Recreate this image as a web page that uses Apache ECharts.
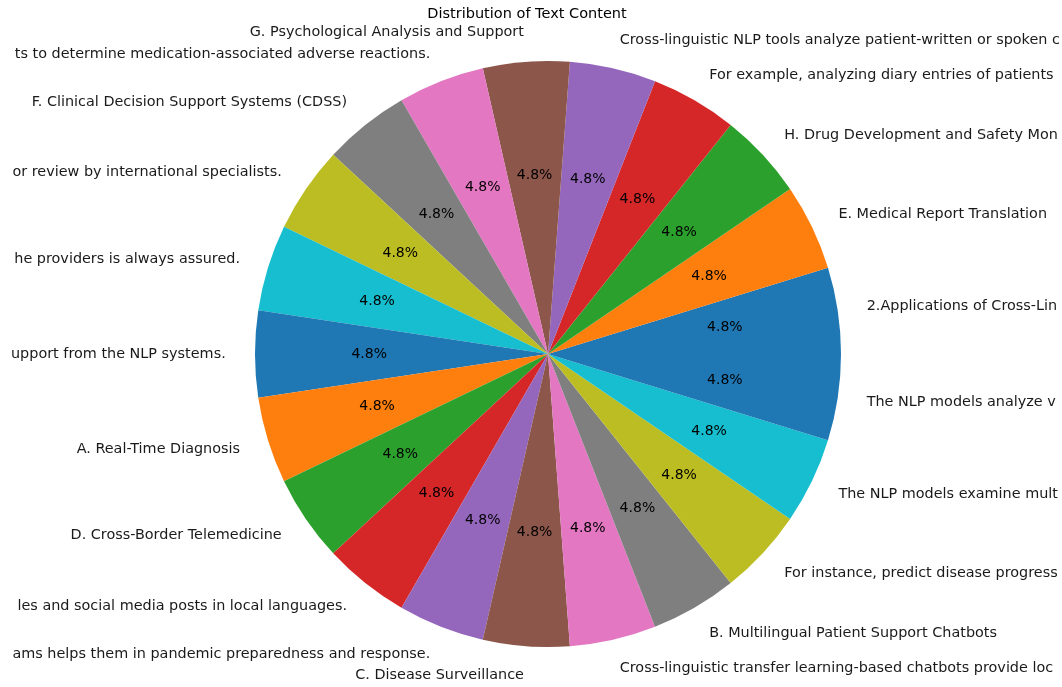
<!DOCTYPE html>
<html>
<head>
<meta charset="utf-8">
<script src="https://cdn.jsdelivr.net/npm/echarts@6/dist/echarts.min.js"></script>
<style>
html,body{margin:0;padding:0;background:#fff;}
#chart{width:1062px;height:687px;}
</style>
</head>
<body>
<div id="chart"></div>
<script>
const titleText = "Distribution of Text Content";
const categories = [
  "2.Applications of Cross-Lin",
  "E. Medical Report Translation",
  "H. Drug Development and Safety Mon",
  "For example, analyzing diary entries of patients",
  "Cross-linguistic NLP tools analyze patient-written or spoken c",
  "G. Psychological Analysis and Support",
  "ts to determine medication-associated adverse reactions.",
  "F. Clinical Decision Support Systems (CDSS)",
  "or review by international specialists.",
  "he providers is always assured.",
  "upport from the NLP systems.",
  "A. Real-Time Diagnosis",
  "D. Cross-Border Telemedicine",
  "les and social media posts in local languages.",
  "ams helps them in pandemic preparedness and response.",
  "C. Disease Surveillance",
  "Cross-linguistic transfer learning-based chatbots provide loc",
  "B. Multilingual Patient Support Chatbots",
  "For instance, predict disease progress",
  "The NLP models examine mult",
  "The NLP models analyze v"
];
const values = [1,1,1,1,1,1,1,1,1,1,1,1,1,1,1,1,1,1,1,1,1];
const palette = ["#1f77b4","#ff7f0e","#2ca02c","#d62728","#9467bd","#8c564b","#e377c2","#7f7f7f","#bcbd22","#17becf"];

const R = 293;
const CX = 548, CY = 354;
const data = categories.map((c, i) => ({ name: c, value: values[i] }));

const chart = echarts.init(document.getElementById('chart'), null, { renderer: 'canvas' });
chart.setOption({
  animation: false,
  color: palette,
  graphic: [{
    type: 'text',
    x: 527, y: 14,
    style: {
      text: titleText,
      font: '14.5px "DejaVu Sans"',
      fill: '#000',
      textAlign: 'center',
      textVerticalAlign: 'middle'
    }
  }],
  series: [
    {
      type: 'pie',
      center: [CX, CY],
      radius: [0, R],
      startAngle: 0,
      clockwise: false,
      avoidLabelOverlap: false,
      silent: true,
      data: data,
      itemStyle: { borderWidth: 0 },
      label: {
        show: true,
        position: 'outside',
        formatter: '{b}',
        fontFamily: 'DejaVu Sans',
        fontSize: 14.4,
        color: '#1a1a1a',
        distanceToLabelLine: 0
      },
      labelLine: { show: false, length: R * 0.1, length2: 0 }
    },
    {
      type: 'pie',
      center: [CX, CY],
      radius: [R * 0.2, R],
      startAngle: 0,
      clockwise: false,
      avoidLabelOverlap: false,
      silent: true,
      data: data,
      itemStyle: { color: 'rgba(0,0,0,0)', borderWidth: 0 },
      label: {
        show: true,
        position: 'inside',
        formatter: p => p.percent.toFixed(1) + '%',
        fontFamily: 'DejaVu Sans',
        fontSize: 14,
        color: '#000'
      },
      labelLine: { show: false }
    }
  ]
});
</script>
</body>
</html>
